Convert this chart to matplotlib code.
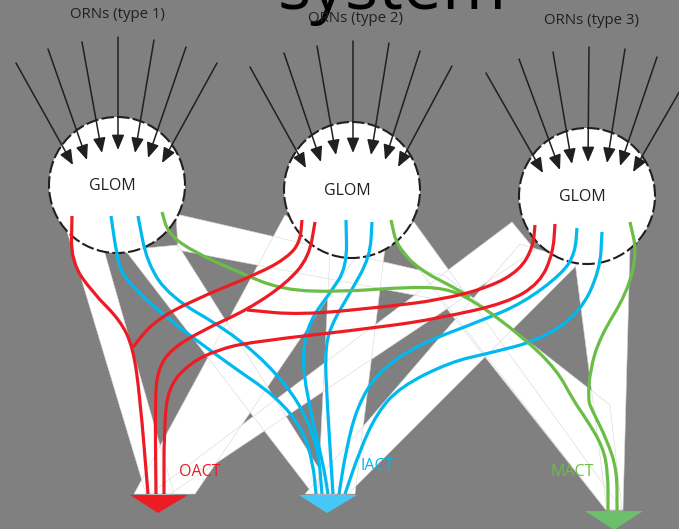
import matplotlib.pyplot as plt
from matplotlib.patches import Circle, Polygon, PathPatch
from matplotlib.path import Path

# picture is laid out in pixel units (x right, y down)
W, H = 679, 529

glom_names = ['GLOM', 'GLOM', 'GLOM']
glom_centers = [(117, 185), (352, 190), (587, 196)]
glom_radius = 68
orn_labels = ['ORNs (type 1)', 'ORNs (type 2)', 'ORNs (type 3)']
orn_label_pos = [(117, 15), (355, 18), (592, 21)]

# receptor neuron inputs: start points and arrow tips
orn_starts = [
    [(16, 63), (48, 49), (82, 42), (118, 37), (154, 40), (186, 47), (217, 63)],
    [(250, 67), (284, 53), (317, 46), (353, 41), (389, 43), (420, 51), (452, 66)],
    [(486, 73), (519, 59), (553, 52), (589, 47), (625, 49), (657, 57), (692, 70)],
]
orn_tips = [
    [(73, 165), (87, 160), (102, 153), (118, 150), (135, 153), (148, 158), (162, 163)],
    [(306, 168), (321, 162), (336, 155), (353, 153), (371, 155), (385, 160), (398, 167)],
    [(543, 173), (560, 170), (572, 164), (588, 162), (607, 163), (620, 166), (633, 172)],
]

tract_names = ['OACT', 'IACT', 'MACT']
tract_colors = ['#ed1c24', '#45c8f5', '#6dbe6d']
tract_label_colors = ['#ed1c24', '#00b9f1', '#6abd45']
tract_label_pos = [(200, 472), (377, 466), (572, 472)]
tract_heads = [
    [(130, 495), (188, 495), (158, 513)],
    [(299, 495), (357, 495), (327, 513)],
    [(585, 511), (643, 511), (614, 530)],
]

# white projection fields, glomerulus -> tract
bands = [
    [(66, 228), (104, 250), (174, 494), (146, 494)],
    [(125, 250), (178, 245), (335, 494), (313, 494)],
    [(176, 214), (445, 276), (610, 405), (622, 510), (606, 510), (440, 300), (178, 250)],
    [(285, 215), (355, 258), (195, 494), (134, 494)],
    [(512, 222), (535, 250), (170, 494), (150, 494)],
    [(330, 252), (385, 248), (355, 494), (318, 494)],
    [(396, 240), (414, 222), (622, 510), (606, 510)],
    [(520, 244), (580, 262), (348, 494), (305, 494)],
    [(575, 262), (630, 248), (623, 510), (607, 510)],
]

red_paths = [
    [(72, 216), (71, 262), (93, 293), (120, 320), (133, 347), (140, 397), (148, 494)],
    [(302, 220), (300, 242), (288, 257), (260, 273), (193, 300), (153, 322), (133, 347)],
    [(315, 222), (309, 257), (287, 283), (247, 310), (203, 330), (170, 350), (158, 370), (155, 397), (156, 494)],
    [(535, 225), (533, 247), (520, 270), (490, 287), (440, 300), (383, 307), (300, 315), (247, 310)],
    [(555, 224), (553, 253), (540, 283), (507, 303), (440, 318), (383, 327), (250, 342), (217, 350), (190, 363), (168, 387), (164, 430), (164, 494)],
]
cyan_paths = [
    [(111, 216), (117, 257), (123, 277), (160, 313), (227, 363), (277, 397), (303, 430), (313, 463), (316, 494)],
    [(138, 216), (147, 263), (170, 297), (227, 330), (267, 363), (300, 403), (318, 447), (322, 494)],
    [(346, 220), (347, 267), (330, 293), (310, 320), (302, 353), (307, 397), (323, 463), (328, 494)],
    [(372, 222), (370, 257), (350, 293), (330, 327), (325, 353), (327, 400), (333, 494)],
    [(577, 228), (575, 253), (563, 273), (523, 303), (483, 320), (417, 345), (377, 373), (357, 407), (346, 450), (339, 494)],
    [(602, 232), (600, 270), (580, 313), (540, 340), (490, 353), (450, 362), (400, 387), (377, 413), (360, 450), (345, 494)],
]
green_paths = [
    [(162, 212), (168, 233), (190, 250), (240, 273), (283, 290), (340, 292), (407, 287), (445, 288), (473, 300), (523, 337), (557, 370), (573, 400), (587, 420), (603, 447), (608, 473), (608, 511)],
    [(391, 220), (397, 247), (420, 270), (453, 287), (470, 297)],
    [(630, 222), (637, 253), (627, 293), (600, 337), (590, 370), (588, 400), (592, 410), (607, 440), (617, 470), (617, 511)],
]


def smooth_path(pts):
    # quadratic Bezier pieces through the mid points of the way points
    verts = [pts[0]]
    codes = [Path.MOVETO]
    for i in range(1, len(pts) - 1):
        mid_a = ((pts[i - 1][0] + pts[i][0]) / 2, (pts[i - 1][1] + pts[i][1]) / 2)
        mid_b = ((pts[i][0] + pts[i + 1][0]) / 2, (pts[i][1] + pts[i + 1][1]) / 2)
        if i == 1:
            verts.append(mid_a)
            codes.append(Path.LINETO)
        verts += [pts[i], mid_b]
        codes += [Path.CURVE3, Path.CURVE3]
    verts.append(pts[-1])
    codes.append(Path.LINETO)
    return Path(verts, codes)


fig = plt.figure(figsize=(W / 100, H / 100), dpi=100)
fig.patch.set_facecolor('#808080')
ax = fig.add_axes([0, 0, 1, 1])
ax.set_facecolor('#808080')
ax.set_xlim(0, W)
ax.set_ylim(H, 0)
ax.axis('off')

for b in bands:
    ax.add_patch(Polygon(b, closed=True, facecolor='white', edgecolor='none', zorder=1))
for b in bands:
    ax.add_patch(Polygon(b, closed=True, facecolor='none', edgecolor='#d6d6d6', lw=0.4, zorder=1.5))

for (cx, cy), name in zip(glom_centers, glom_names):
    ax.add_patch(Circle((cx, cy), glom_radius, facecolor='white', edgecolor='#231f20',
                        lw=1.5, linestyle=(0, (6, 1.6)), zorder=2))
    ax.text(cx - 5, cy + 1, name, ha='center', va='center', fontsize=11.5,
            family='Open Sans', color='#231f20', zorder=6)

for paths, col in zip([cyan_paths, green_paths, red_paths], ['#00b9f1', '#6abd45', '#ed1c24']):
    for p in paths:
        ax.add_patch(PathPatch(smooth_path(p), facecolor='none', edgecolor=col, lw=2.3,
                               capstyle='butt', joinstyle='round', zorder=4))

for head, col in zip(tract_heads, tract_colors):
    ax.add_patch(Polygon(head, closed=True, facecolor=col, edgecolor='none', zorder=5))

for name, pos, col in zip(tract_names, tract_label_pos, tract_label_colors):
    ax.text(pos[0], pos[1], name, ha='center', va='center', fontsize=11.5,
            family='Open Sans', color=col, zorder=6)

for starts, tips in zip(orn_starts, orn_tips):
    for s, t in zip(starts, tips):
        ax.annotate('', xy=t, xytext=s, zorder=5,
                    arrowprops=dict(arrowstyle='-|>,head_length=0.65,head_width=0.27',
                                    color='#231f20', lw=1.1, mutation_scale=14,
                                    shrinkA=0, shrinkB=0))

for lab, pos in zip(orn_labels, orn_label_pos):
    ax.text(pos[0], pos[1], lab, ha='center', va='center', fontsize=10.8,
            family='Open Sans', color='#231f20', zorder=6)

ax.text(392, 9, 'system', ha='center', va='baseline', fontsize=50,
        family='Open Sans', color='black', zorder=3)

fig.savefig('out.png', dpi=100, facecolor=fig.get_facecolor())
